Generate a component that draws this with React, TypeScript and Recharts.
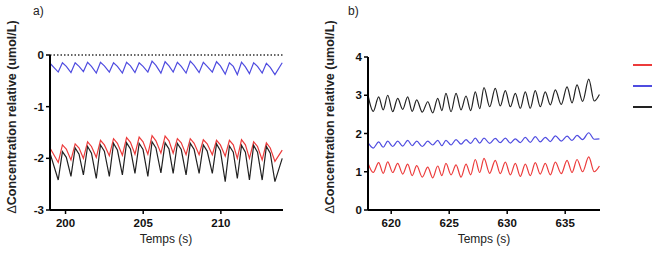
import React from "react";
import {
  LineChart,
  Line,
  XAxis,
  YAxis,
  ReferenceLine,
  Legend,
} from "recharts";

// panel a) time grid: trough / peak / shoulder per beat
const timeA = [
  199.0,
  199.53, 199.8, 200.05,
  200.35, 200.62, 200.87,
  201.15, 201.42, 201.67,
  201.98, 202.25, 202.5,
  202.82, 203.09, 203.34,
  203.66, 203.93, 204.18,
  204.47, 204.74, 204.99,
  205.3, 205.57, 205.82,
  206.14, 206.41, 206.66,
  206.93, 207.2, 207.45,
  207.76, 208.03, 208.28,
  208.6, 208.87, 209.12,
  209.45, 209.72, 209.97,
  210.28, 210.55, 210.8,
  211.06, 211.33, 211.58,
  211.84, 212.11, 212.36,
  212.66, 212.93, 213.18,
  213.48, 213.95,
];

const redA = [
  -1.8,
  -2.08, -1.74, -1.82,
  -2.03, -1.72, -1.8,
  -2.0, -1.68, -1.77,
  -1.98, -1.65, -1.74,
  -1.95, -1.62, -1.71,
  -1.94, -1.6, -1.69,
  -1.92, -1.59, -1.68,
  -1.92, -1.56, -1.66,
  -1.9, -1.57, -1.66,
  -1.9, -1.62, -1.7,
  -1.93, -1.62, -1.71,
  -1.93, -1.64, -1.72,
  -1.93, -1.65, -1.74,
  -1.96, -1.65, -1.74,
  -2.0, -1.64, -1.74,
  -2.0, -1.68, -1.77,
  -2.03, -1.7, -1.8,
  -2.06, -1.84,
];

const blueA = [
  -0.16,
  -0.33, -0.15, -0.22,
  -0.34, -0.15, -0.22,
  -0.32, -0.14, -0.22,
  -0.35, -0.14, -0.21,
  -0.33, -0.15, -0.22,
  -0.35, -0.14, -0.21,
  -0.34, -0.15, -0.22,
  -0.33, -0.12, -0.2,
  -0.35, -0.13, -0.21,
  -0.33, -0.14, -0.22,
  -0.35, -0.12, -0.2,
  -0.34, -0.14, -0.22,
  -0.33, -0.13, -0.21,
  -0.37, -0.15, -0.22,
  -0.38, -0.14, -0.23,
  -0.36, -0.15, -0.22,
  -0.35, -0.16, -0.24,
  -0.38, -0.15,
];

const blackA = [
  -1.9,
  -2.42, -1.87, -1.98,
  -2.35, -1.8, -1.92,
  -2.32, -1.77, -1.9,
  -2.39, -1.74, -1.86,
  -2.35, -1.71, -1.84,
  -2.32, -1.7, -1.82,
  -2.29, -1.71, -1.83,
  -2.35, -1.68, -1.8,
  -2.28, -1.7, -1.82,
  -2.29, -1.71, -1.83,
  -2.32, -1.71, -1.83,
  -2.29, -1.74, -1.86,
  -2.29, -1.72, -1.85,
  -2.45, -1.76, -1.88,
  -2.39, -1.75, -1.88,
  -2.42, -1.75, -1.88,
  -2.42, -1.77, -1.9,
  -2.45, -2.0,
];

// panel b) time grid: trough / peak per beat
const timeB = [
  618.0,
  618.45, 618.92, 619.31, 619.7, 620.13, 620.56, 620.99, 621.42,
  621.81, 622.2, 622.68, 623.15, 623.58, 624.01, 624.37, 624.72,
  625.16, 625.59, 626.02, 626.45, 626.85, 627.25, 627.63, 628.0,
  628.49, 628.97, 629.4, 629.84, 630.27, 630.7, 631.13, 631.56,
  631.99, 632.42, 632.85, 633.28, 633.72, 634.15, 634.66, 635.16,
  635.59, 636.02, 636.5, 637.03,
  637.5, 637.95,
];

const redB = [
  1.22,
  0.98, 1.24, 0.96, 1.26, 0.98, 1.22, 0.94, 1.2,
  0.9, 1.16, 0.86, 1.12, 0.84, 1.15, 0.9, 1.22,
  0.92, 1.18, 0.86, 1.2, 0.92, 1.32, 0.98, 1.35,
  0.96, 1.3, 0.95, 1.25, 0.92, 1.22, 0.88, 1.2,
  0.9, 1.24, 0.94, 1.22, 0.92, 1.25, 0.95, 1.3,
  0.98, 1.32, 1.0, 1.39,
  1.0, 1.15,
];

const blueB = [
  1.76,
  1.62, 1.78, 1.64, 1.8, 1.66, 1.8, 1.67, 1.82,
  1.68, 1.8, 1.66, 1.8, 1.7, 1.82, 1.68, 1.82,
  1.7, 1.84, 1.72, 1.84, 1.74, 1.88, 1.75, 1.88,
  1.74, 1.87, 1.76, 1.88, 1.75, 1.86, 1.76, 1.9,
  1.77, 1.92, 1.78, 1.9, 1.79, 1.94, 1.8, 1.93,
  1.82, 1.95, 1.84, 2.02,
  1.85, 1.86,
];

const blackB = [
  3.0,
  2.58, 2.96, 2.62, 3.0, 2.57, 2.92, 2.63, 2.96,
  2.58, 2.88, 2.56, 2.83, 2.54, 2.92, 2.6, 3.05,
  2.57, 3.05, 2.62, 2.98, 2.6, 3.09, 2.65, 3.2,
  2.7, 3.18, 2.72, 3.12, 2.7, 3.05, 2.66, 3.09,
  2.66, 3.12, 2.7, 3.09, 2.75, 3.14, 2.76, 3.22,
  2.8, 3.27, 2.84, 3.42,
  2.85, 3.02,
];

const ticksYA = [-3, -2, -1, 0];
const ticksXA = [200, 205, 210];
const ticksYB = [0, 1, 2, 3, 4];
const ticksXB = [620, 625, 630, 635];

const RED = "#ec3b3b";
const BLUE = "#4f4ce0";
const BLACK = "#222222";
const FONT = "'Liberation Sans', Arial, sans-serif";

const dataA = timeA.map((t, i) => ({ t, red: redA[i], blue: blueA[i], black: blackA[i] }));
const dataB = timeB.map((t, i) => ({ t, red: redB[i], blue: blueB[i], black: blackB[i] }));

const tickStyle = { fill: "#111", fontSize: 11.5, fontWeight: "bold" as const, fontFamily: FONT };
const axisLine = { stroke: "#000", strokeWidth: 2 };
const tickLine = { stroke: "#000", strokeWidth: 1.5 };

function YTitle({ px, py }: { px: number; py: number }) {
  return (
    <text
      x={px}
      y={py}
      transform={`rotate(-90, ${px}, ${py})`}
      textAnchor="middle"
      dominantBaseline="central"
      fontFamily={FONT}
      fontSize={12.5}
      fontWeight="bold"
      fill="#222"
    >
      <tspan fontWeight="normal">Δ</tspan>Concentration relative (umol/L)
    </text>
  );
}

function XTitle({ px, py }: { px: number; py: number }) {
  return (
    <text x={px} y={py} textAnchor="middle" fontFamily={FONT} fontSize={12} fill="#222">
      Temps (s)
    </text>
  );
}

function LegendLines() {
  return (
    <div>
      {[RED, BLUE, BLACK].map((c) => (
        <div key={c} style={{ width: 19, height: 2, background: c, marginBottom: 19 }} />
      ))}
    </div>
  );
}

const panelTitle: React.CSSProperties = {
  position: "absolute",
  top: 4,
  fontFamily: FONT,
  fontSize: 12,
  color: "#222",
};

export default function App() {
  return (
    <div style={{ position: "absolute", left: 0, top: 0, width: 652, height: 260, background: "#fff", overflow: "hidden" }}>
      <div style={{ ...panelTitle, left: 33 }}>a)</div>
      <div style={{ ...panelTitle, left: 348 }}>b)</div>

      <div style={{ position: "absolute", left: 0, top: 0 }}>
        <LineChart width={300} height={260} data={dataA} margin={{ top: 55, right: 17, bottom: 0, left: 0 }}>
          <XAxis
            dataKey="t"
            type="number"
            domain={[199, 214]}
            ticks={ticksXA}
            height={50}
            axisLine={axisLine}
            tickLine={tickLine}
            tickSize={4}
            tickMargin={5}
            tick={tickStyle}
            label={<XTitle px={166} py={243} />}
          />
          <YAxis
            type="number"
            domain={[-3, 0]}
            ticks={ticksYA}
            width={50}
            axisLine={axisLine}
            tickLine={tickLine}
            tickSize={4}
            tickMargin={2}
            tick={tickStyle}
            allowDataOverflow
            label={<YTitle px={12} py={117} />}
          />
          <ReferenceLine y={0} stroke="#333" strokeWidth={1.5} strokeDasharray="1.5 2" />
          <Line type="linear" dataKey="red" name="red" stroke={RED} strokeWidth={1.2} dot={false} isAnimationActive={false} />
          <Line type="linear" dataKey="blue" name="blue" stroke={BLUE} strokeWidth={1.2} dot={false} isAnimationActive={false} />
          <Line type="linear" dataKey="black" name="black" stroke={BLACK} strokeWidth={1.2} dot={false} isAnimationActive={false} />
        </LineChart>
      </div>

      <div style={{ position: "absolute", left: 300, top: 0 }}>
        <LineChart width={352} height={260} data={dataB} margin={{ top: 57, right: 52, bottom: 0, left: 0 }}>
          <XAxis
            dataKey="t"
            type="number"
            domain={[618, 638]}
            ticks={ticksXB}
            height={50}
            axisLine={axisLine}
            tickLine={tickLine}
            tickSize={4}
            tickMargin={5}
            tick={tickStyle}
            label={<XTitle px={184} py={243} />}
          />
          <YAxis
            type="number"
            domain={[0, 4]}
            ticks={ticksYB}
            width={68}
            axisLine={axisLine}
            tickLine={tickLine}
            tickSize={4}
            tickMargin={2}
            tick={tickStyle}
            label={<YTitle px={30} py={117} />}
          />
          <Legend
            layout="vertical"
            align="center"
            verticalAlign="middle"
            content={<LegendLines />}
            wrapperStyle={{ left: 333, top: 64, width: 19 }}
          />
          <Line type="monotone" dataKey="red" name="red" stroke={RED} strokeWidth={1.2} dot={false} isAnimationActive={false} />
          <Line type="monotone" dataKey="blue" name="blue" stroke={BLUE} strokeWidth={1.2} dot={false} isAnimationActive={false} />
          <Line type="monotone" dataKey="black" name="black" stroke={BLACK} strokeWidth={1.2} dot={false} isAnimationActive={false} />
        </LineChart>
      </div>
    </div>
  );
}
